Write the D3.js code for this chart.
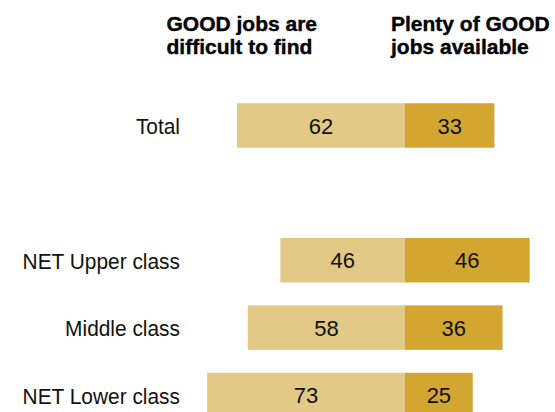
<!DOCTYPE html>
<html>
<head>
<meta charset="utf-8">
<script src="https://cdn.jsdelivr.net/npm/d3@7"></script>
<style>
  html, body { margin: 0; padding: 0; background: #fff; }
  svg { display: block; font-family: "Liberation Sans", Arial, sans-serif; }
</style>
</head>
<body>
<svg id="chart" width="555" height="412"></svg>
<script>
// Row labels (blank entry is the spacer between Total and the class groups)
const categories = ["Total", "", "NET Upper class", "Middle class", "NET Lower class"];
// Share saying good jobs are difficult to find
const difficultValues = [62, null, 46, 58, 73];
// Share saying there are plenty of good jobs available
const plentyValues = [33, null, 46, 36, 25];
// Column headings
const headingDifficult = ["GOOD jobs are", "difficult to find"];
const headingPlenty = ["Plenty of GOOD", "jobs available"];

const rows = categories.map((c, i) => ({
  name: c, difficult: difficultValues[i], plenty: plentyValues[i]
})).filter(d => d.name !== "");

const svg = d3.select("#chart");

// Diverging scale: negative side = difficult, positive side = plenty
const x = d3.scaleLinear().domain([-100, 100]).range([134, 676]);
const y = d3.scalePoint().domain(categories).range([125.5, 395]);
const barH = 44.5;

const lightColor = "#E2C985";
const darkColor = "#D3A632";

// Column headings in a heavy weight
function heading(lines, left) {
  const g = svg.append("g")
    .attr("transform", `translate(${left},0)`)
    .attr("font-size", 21).attr("font-weight", "bold")
    .attr("fill", "#000").attr("stroke", "#000").attr("stroke-width", 0.4);
  g.append("text").attr("y", 31)
    .selectAll("tspan").data(lines).join("tspan")
    .attr("x", 0).attr("dy", (d, i) => i === 0 ? 0 : 23).text(d => d);
}
heading(headingDifficult, 166.5);
heading(headingPlenty, 391);

const row = svg.append("g").selectAll("g").data(rows).join("g")
  .attr("transform", d => `translate(0,${y(d.name)})`);

// Left segment: difficult to find
row.append("rect")
  .attr("x", d => x(-d.difficult))
  .attr("width", d => x(0) - x(-d.difficult))
  .attr("y", -barH / 2).attr("height", barH)
  .attr("fill", lightColor);

// Right segment: plenty available
row.append("rect")
  .attr("x", x(0))
  .attr("width", d => x(d.plenty) - x(0))
  .attr("y", -barH / 2).attr("height", barH)
  .attr("fill", darkColor);

// Value labels
row.append("text")
  .attr("x", d => (x(-d.difficult) + x(0)) / 2)
  .attr("y", 8)
  .attr("text-anchor", "middle").attr("font-size", 22).attr("fill", "#111")
  .text(d => d.difficult);
row.append("text")
  .attr("x", d => (x(d.plenty) + x(0)) / 2)
  .attr("y", 8)
  .attr("text-anchor", "middle").attr("font-size", 22).attr("fill", "#111")
  .text(d => d.plenty);

// Category labels
row.append("text")
  .attr("transform", "translate(180,8.5) scale(0.95,1)")
  .attr("text-anchor", "end").attr("font-size", 22).attr("fill", "#111")
  .text(d => d.name);
</script>
</body>
</html>
